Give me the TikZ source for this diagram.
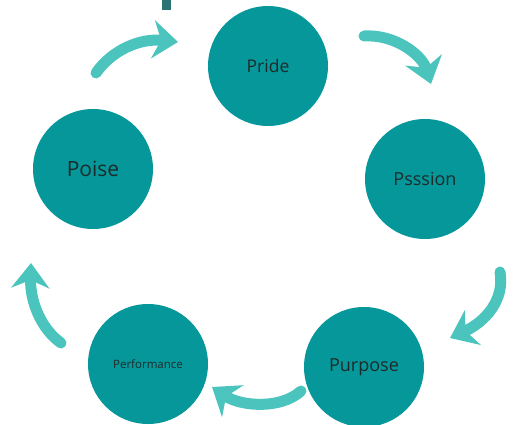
\documentclass[tikz,border=0pt]{standalone}
\usepackage{fontspec}
\setmainfont{Open Sans}
\usetikzlibrary{arrows.meta}
\definecolor{stageteal}{HTML}{06979A}
\definecolor{arrowteal}{HTML}{4BC4BE}
\definecolor{markteal}{HTML}{2B7475}
\definecolor{labelgrey}{HTML}{1E2B2B}
\tikzset{
  stage/.style={circle, fill=stageteal, minimum size=120pt, inner sep=0pt, text=labelgrey},
  cyclearrow/.style={arrowteal, line width=11pt, line cap=round,
    -{Stealth[inset=8pt, length=25pt, width=38pt]}}
}

\begin{document}
\begin{tikzpicture}[x=1pt, y=-1pt]
  \useasboundingbox (0,0) rectangle (517,425);
  \fill[markteal] (162,0) rectangle (171,10);
  % the five stages
  \node[stage, font=\fontsize{17.5}{20}\selectfont] (pride) at (268,66) {Pride};
  \node[stage, font=\fontsize{18}{21}\selectfont] (passion) at (425,179) {Psssion};
  \node[stage, font=\fontsize{18}{21}\selectfont] (purpose) at (364,367) {Purpose};
  \node[stage, font=\fontsize{11.5}{13}\selectfont] (performance) at (148,364) {Performance};
  \node[stage, font=\fontsize{21}{25}\selectfont] (poise) at (93,169) {Poise};
  % arrow ends
  \coordinate (a1) at (96,73);  \coordinate (b1) at (178,42);
  \coordinate (a2) at (364,36); \coordinate (b2) at (431,84);
  \coordinate (a3) at (500,272); \coordinate (b3) at (450,338);
  \coordinate (a4) at (301,391); \coordinate (b4) at (212,387);
  \coordinate (a5) at (61,343); \coordinate (b5) at (31,263);
  \draw[cyclearrow] (a1) .. controls (112,50) and (140,38) .. (b1);
  \draw[cyclearrow] (a2) .. controls (395,34) and (422,55) .. (b2);
  \draw[cyclearrow] (a3) .. controls (505,300) and (485,322) .. (b3);
  \draw[cyclearrow] (a4) .. controls (280,410) and (240,406) .. (b4);
  \draw[cyclearrow] (a5) .. controls (40,328) and (30,300) .. (b5);
\end{tikzpicture}
\end{document}
